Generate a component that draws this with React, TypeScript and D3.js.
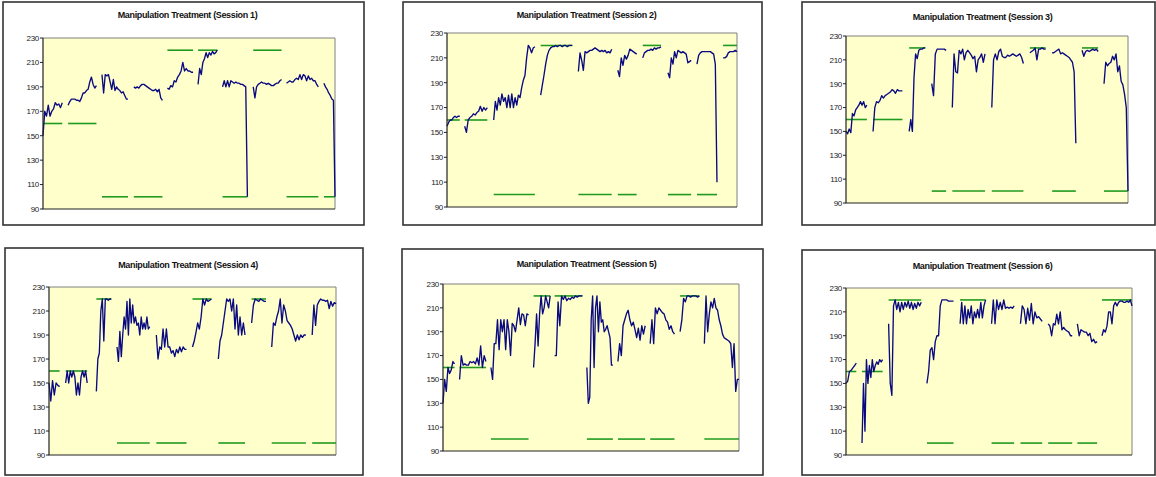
import React from 'react';
import * as d3 from 'd3';

type Trial = { from: number; to: number; target: number; values: number[] };

const yTicks = [90, 110, 130, 150, 170, 190, 210, 230];

const session1: Trial[] = [
  { from: 0, to: 6.6, target: 160, values: [150, 170, 166, 175, 166, 170, 172, 177, 175, 176, 173, 177] },
  { from: 8.6, to: 18.3, target: 160, values: [175, 178, 180, 180, 180, 179, 179, 178, 181, 185, 185, 187, 188, 194, 198, 192, 189, 191] },
  { from: 20.2, to: 29.1, target: 100, values: [200, 185, 200, 199, 200, 194, 188, 196, 187, 190, 188, 187, 185, 186, 183, 180, 180] },
  { from: 31.1, to: 40.9, target: 100, values: [190, 189, 190, 189, 191, 192, 192, 191, 190, 189, 188, 187, 187, 188, 186, 188, 181, 179] },
  { from: 42.6, to: 51.4, target: 220, values: [189, 188, 191, 190, 195, 194, 198, 200, 203, 210, 203, 205, 203, 203, 202, 202] },
  { from: 53.1, to: 59.7, target: 220, values: [192, 205, 200, 210, 213, 218, 214, 218, 216, 219, 217, 218, 220] },
  { from: 61.5, to: 70, target: 100, values: [190, 195, 190, 195, 190, 195, 194, 193, 194, 193, 193, 192, 192, 191, 190, 100] },
  { from: 72, to: 81.7, target: 220, values: [190, 181, 190, 192, 193, 194, 193, 193, 192, 193, 192, 191, 191, 192, 193, 193, 195, 196] },
  { from: 83.4, to: 94.3, target: 100, values: [193, 194, 195, 194, 194, 196, 197, 196, 200, 196, 200, 199, 195, 199, 196, 197, 195, 195, 192, 190] },
  { from: 96.2, to: 100, target: 100, values: [193, 190, 188, 185, 183, 180, 179, 100] },
];

const session2: Trial[] = [
  { from: 0, to: 4.4, target: 160, values: [155, 158, 160, 160, 162, 163, 162, 163, 163] },
  { from: 6.1, to: 13.9, target: 160, values: [155, 150, 160, 162, 163, 165, 164, 166, 167, 171, 167, 170, 168, 170] },
  { from: 16.1, to: 30.3, target: 100, values: [160, 175, 168, 178, 172, 181, 175, 178, 170, 180, 170, 181, 170, 178, 172, 180, 178, 186, 192, 196, 210, 220, 218, 214, 218, 219] },
  { from: 32.3, to: 43.2, target: 220, values: [180, 188, 196, 205, 212, 216, 218, 219, 219, 220, 219, 220, 220, 219, 220, 220, 219, 220, 220, 220] },
  { from: 45.3, to: 56.8, target: 100, values: [199, 214, 208, 200, 215, 214, 215, 216, 216, 217, 218, 217, 216, 215, 216, 215, 216, 214, 215, 214, 217] },
  { from: 58.9, to: 65.4, target: 100, values: [200, 195, 210, 204, 212, 209, 212, 217, 216, 215, 214, 213] },
  { from: 67.5, to: 73.8, target: 220, values: [210, 214, 215, 216, 216, 217, 216, 218, 217, 218, 218, 219] },
  { from: 76.2, to: 84.2, target: 100, values: [198, 194, 210, 205, 215, 210, 216, 215, 214, 215, 214, 213, 206, 207, 208] },
  { from: 86.2, to: 93.1, target: 100, values: [205, 212, 214, 215, 215, 215, 215, 215, 215, 214, 213, 205, 110] },
  { from: 95.2, to: 100, target: 220, values: [210, 210, 211, 214, 215, 215, 215, 216, 215] },
];

const session3: Trial[] = [
  { from: 0, to: 7.4, target: 160, values: [150, 148, 152, 149, 165, 163, 168, 170, 172, 175, 172, 175, 170, 172] },
  { from: 9.6, to: 20, target: 160, values: [150, 170, 175, 174, 176, 180, 178, 180, 181, 182, 183, 185, 184, 182, 185, 184, 184, 184] },
  { from: 22.4, to: 28.1, target: 220, values: [150, 160, 150, 195, 215, 211, 218, 219, 219, 220, 220] },
  { from: 30.4, to: 35.5, target: 100, values: [190, 180, 215, 219, 219, 219, 219, 219, 218] },
  { from: 37.7, to: 49.3, target: 100, values: [170, 215, 200, 199, 218, 215, 219, 210, 216, 218, 216, 214, 211, 213, 200, 210, 212, 215, 208, 215] },
  { from: 51.7, to: 62.9, target: 100, values: [170, 210, 215, 210, 217, 219, 213, 212, 212, 214, 213, 214, 215, 214, 213, 214, 215, 212, 207] },
  { from: 65.2, to: 70.8, target: 220, values: [216, 217, 218, 220, 210, 219, 219, 220, 219, 219] },
  { from: 73.1, to: 81.5, target: 100, values: [216, 216, 217, 218, 219, 215, 216, 215, 214, 213, 212, 210, 208, 200, 140] },
  { from: 83.7, to: 89.4, target: 220, values: [218, 213, 217, 218, 217, 218, 219, 218, 219, 217] },
  { from: 91.5, to: 100, target: 100, values: [190, 208, 205, 207, 208, 213, 210, 215, 200, 205, 192, 189, 181, 170, 100] },
];

const session4: Trial[] = [
  { from: 0, to: 3.7, target: 160, values: [150, 135, 152, 140, 150, 148, 147] },
  { from: 5.8, to: 13.3, target: 160, values: [150, 160, 150, 160, 155, 160, 155, 140, 150, 140, 155, 160, 155, 160, 150] },
  { from: 16.5, to: 21.7, target: 220, values: [143, 170, 175, 210, 220, 185, 220, 220, 219, 220, 220] },
  { from: 23.7, to: 35.1, target: 100, values: [180, 168, 193, 172, 190, 205, 195, 218, 190, 220, 200, 215, 200, 205, 198, 200, 190, 205, 195, 200, 195, 205, 195, 197] },
  { from: 37.4, to: 47.9, target: 100, values: [190, 170, 180, 178, 195, 180, 195, 180, 180, 175, 177, 172, 178, 175, 180, 176, 180, 178, 178] },
  { from: 50, to: 56.6, target: 220, values: [180, 185, 192, 200, 195, 205, 220, 215, 220, 218, 219, 220] },
  { from: 59, to: 68.3, target: 100, values: [170, 185, 190, 200, 210, 220, 218, 220, 210, 220, 195, 215, 190, 205, 190, 200, 190] },
  { from: 70.6, to: 75.6, target: 220, values: [200, 215, 220, 219, 218, 220, 219, 218, 218] },
  { from: 77.6, to: 89.5, target: 100, values: [180, 200, 198, 205, 210, 220, 200, 215, 210, 202, 200, 198, 195, 190, 185, 190, 186, 190, 188, 190, 190] },
  { from: 91.7, to: 100, target: 100, values: [190, 215, 198, 215, 218, 220, 219, 219, 218, 219, 212, 218, 214, 217, 216] },
];

const session5: Trial[] = [
  { from: 0, to: 3.9, target: 160, values: [130, 150, 140, 160, 155, 158, 165, 163] },
  { from: 5.6, to: 14.5, target: 160, values: [150, 170, 162, 163, 162, 162, 165, 164, 165, 163, 168, 162, 178, 160, 170, 165] },
  { from: 16.2, to: 28.9, target: 100, values: [160, 150, 180, 180, 200, 175, 200, 190, 200, 175, 200, 190, 170, 197, 195, 190, 200, 210, 196, 205, 204, 195, 205, 204] },
  { from: 30.6, to: 36.2, target: 220, values: [160, 180, 205, 178, 205, 220, 205, 210, 220, 215, 210, 220] },
  { from: 37.7, to: 47.1, target: 220, values: [170, 170, 215, 195, 220, 217, 220, 216, 218, 217, 219, 218, 220, 219, 220, 220, 220] },
  { from: 48.6, to: 57.4, target: 100, values: [160, 130, 135, 200, 220, 160, 210, 220, 190, 215, 198, 200, 190, 192, 195, 190, 185, 162, 162] },
  { from: 59.1, to: 68.3, target: 100, values: [165, 180, 170, 195, 200, 205, 208, 200, 195, 198, 192, 185, 193, 183, 195, 188, 195] },
  { from: 70, to: 78.2, target: 100, values: [180, 200, 180, 210, 205, 210, 208, 206, 205, 200, 198, 192, 195, 190, 188] },
  { from: 80.1, to: 86.6, target: 220, values: [190, 200, 218, 215, 220, 220, 219, 220, 220, 220, 219, 220] },
  { from: 88.3, to: 100, target: 100, values: [180, 220, 190, 205, 215, 210, 218, 210, 208, 200, 195, 188, 185, 184, 183, 182, 180, 160, 180, 140, 150, 150] },
];

const session6: Trial[] = [
  { from: 0, to: 3.6, target: 160, values: [150, 152, 160, 161, 163, 165, 167] },
  { from: 5.6, to: 12.8, target: 160, values: [100, 150, 110, 170, 150, 165, 155, 170, 160, 165, 168, 166, 170, 168, 170] },
  { from: 14.9, to: 26.3, target: 220, values: [200, 150, 140, 215, 220, 212, 218, 210, 218, 212, 218, 214, 219, 213, 218, 212, 217, 213, 218, 215, 218] },
  { from: 28.3, to: 37.6, target: 100, values: [150, 160, 178, 180, 170, 185, 190, 190, 215, 220, 220, 220, 220, 219, 219, 219, 219] },
  { from: 39.9, to: 48.8, target: 220, values: [200, 218, 200, 215, 200, 212, 205, 215, 200, 210, 205, 212, 205, 218, 205, 215, 220] },
  { from: 50.9, to: 58.8, target: 100, values: [200, 220, 200, 220, 212, 218, 212, 220, 213, 214, 213, 214, 213, 215] },
  { from: 61, to: 68.6, target: 100, values: [200, 215, 212, 200, 213, 203, 217, 200, 210, 205, 206, 204, 202] },
  { from: 70.7, to: 79.1, target: 100, values: [200, 198, 190, 200, 199, 208, 200, 210, 195, 197, 195, 194, 193, 190, 190] },
  { from: 80.9, to: 87.8, target: 100, values: [200, 190, 195, 194, 193, 193, 190, 192, 185, 187, 184, 185] },
  { from: 89.5, to: 100, target: 220, values: [190, 195, 193, 198, 210, 210, 200, 215, 218, 215, 218, 219, 219, 218, 218, 219, 218, 220, 215] },
];

// panel frames: [x, y, w, h] for the outer box and the plot area
const panels = [
  { title: 'Manipulation Treatment (Session 1)', trials: session1, box: [3, 2, 361, 223], plot: [43, 38, 292, 171], titleY: 18 },
  { title: 'Manipulation Treatment (Session 2)', trials: session2, box: [403, 2, 359, 223], plot: [447, 33, 290, 174], titleY: 18 },
  { title: 'Manipulation Treatment (Session 3)', trials: session3, box: [802, 2, 353, 223], plot: [846, 36, 282, 167], titleY: 20 },
  { title: 'Manipulation Treatment (Session 4)', trials: session4, box: [5, 248, 358, 227], plot: [49, 287, 287, 168], titleY: 268 },
  { title: 'Manipulation Treatment (Session 5)', trials: session5, box: [402, 249, 361, 226], plot: [443, 284, 296, 167], titleY: 267 },
  { title: 'Manipulation Treatment (Session 6)', trials: session6, box: [802, 250, 353, 225], plot: [846, 288, 286, 167], titleY: 269 },
];

function Panel({ p }: { p: (typeof panels)[number] }) {
  const [bx, by, bw, bh] = p.box;
  const [px, py, pw, ph] = p.plot;
  const x = d3.scaleLinear().domain([0, 100]).range([px, px + pw]);
  const y = d3.scaleLinear().domain([90, 230]).range([py + ph, py]);
  const line = d3.line<[number, number]>().x(d => x(d[0])).y(d => y(d[1]));

  return (
    <g>
      <rect x={bx} y={by} width={bw} height={bh} fill="#fff" stroke="#333" strokeWidth={1.6} />
      <text x={bx + bw / 2 + 4} y={p.titleY} textAnchor="middle" fontFamily="Liberation Sans, Arial, sans-serif"
        fontWeight="bold" fontSize={9} letterSpacing={-0.35} fill="#111">{p.title}</text>
      <rect x={px} y={py} width={pw} height={ph} fill="#FFFFCC" />
      <path d={`M${px},${py}H${px + pw}V${py + ph}`} fill="none" stroke="#808080" strokeWidth={1} />
      {p.trials.map((t, i) => (
        <line key={'g' + i} x1={x(t.from)} x2={x(t.to)} y1={y(t.target)} y2={y(t.target)}
          stroke="#1f9a1f" strokeWidth={1.6} />
      ))}
      {p.trials.map((t, i) => {
        const n = t.values.length;
        const pts = t.values.map((v, k) => [t.from + (k * (t.to - t.from)) / (n - 1), v] as [number, number]);
        return <path key={'b' + i} d={line(pts) || ''} fill="none" stroke="#0a0a80" strokeWidth={1.35} strokeLinejoin="round" />;
      })}
      <path d={`M${px},${py}V${py + ph}H${px + pw}`} fill="none" stroke="#222" strokeWidth={1.2} />
      {yTicks.map(v => (
        <g key={v}>
          <line x1={px - 3} x2={px} y1={y(v)} y2={y(v)} stroke="#222" strokeWidth={1} />
          <text x={px - 4} y={y(v)} dy="0.35em" textAnchor="end" fontFamily="Liberation Sans, Arial, sans-serif"
            fontSize={8} letterSpacing={-0.3} fill="#222">{v}</text>
        </g>
      ))}
    </g>
  );
}

export default function App() {
  return (
    <svg width={1156} height={477} style={{ position: 'absolute', left: 0, top: 0, background: '#fff' }}>
      {panels.map(p => <Panel key={p.title} p={p} />)}
    </svg>
  );
}
